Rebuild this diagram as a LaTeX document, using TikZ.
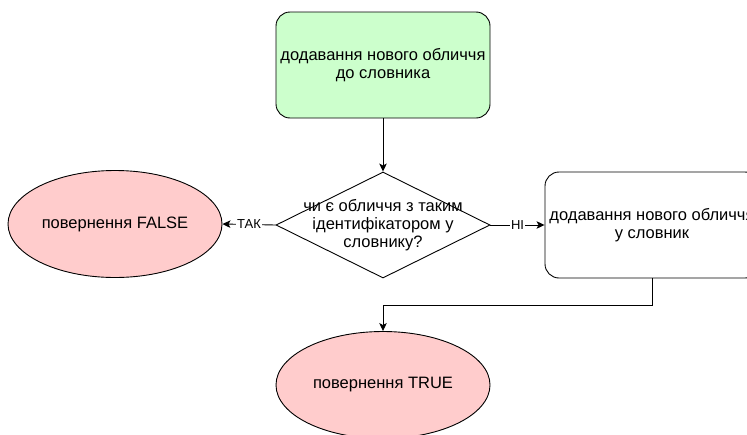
\documentclass[tikz,border=0pt]{standalone}
\usepackage{fontspec}
\setmainfont{Liberation Sans}
\usetikzlibrary{shapes.geometric,arrows.meta}
\definecolor{startgreen}{HTML}{CCFFCC}
\definecolor{endpink}{HTML}{FFCCCC}
\begin{document}
\begin{tikzpicture}[x=1pt,y=-1pt,
  every node/.style={font=\fontsize{16.5}{18}\selectfont},
  procbox/.style={draw, line width=0.9pt, rounded corners=14pt, align=center,
    minimum width=214pt, minimum height=106pt, inner sep=0pt},
  terminal/.style={ellipse, draw, line width=0.9pt, fill=endpink,
    minimum width=214pt, minimum height=107pt, inner sep=0pt},
  decision/.style={diamond, draw, line width=0.9pt, minimum width=214pt,
    minimum height=106pt, inner sep=0pt},
  flow/.style={draw, line width=0.9pt, -{Stealth[length=8pt,width=7.5pt,inset=2pt]}},
  edgelabel/.style={fill=white, inner sep=1pt, font=\fontsize{13}{14}\selectfont}]
  \useasboundingbox (0,0) rectangle (747,434);
  \clip (0,0) rectangle (747,434);

  % blocks
  \node[procbox, fill=startgreen] (start) at (383,65)
    {додавання нового обличчя\\до словника};
  \node[decision] (check) at (383,225) {};
  \node[align=center] (checktext) at (check.center)
    {чи є обличчя з таким\\ідентифікатором у\\словнику?};
  \node[terminal] (false) at (115,224) {повернення FALSE};
  \node[procbox] (add) at (652,225) {додавання нового обличчя\\у словник};
  \node[terminal] (true) at (383,385) {повернення TRUE};
  \coordinate (bend) at (652,305);

  % connectors
  \draw[flow] (start) -- (check);
  \draw[flow] (check.west) -- node[edgelabel] (yes) {ТАК} (false.east);
  \draw[flow] (check.east) -- node[edgelabel] (no) {НІ} (add.west);
  \draw[flow] (add.south) -- (bend) -| (true.north);
\end{tikzpicture}
\end{document}
